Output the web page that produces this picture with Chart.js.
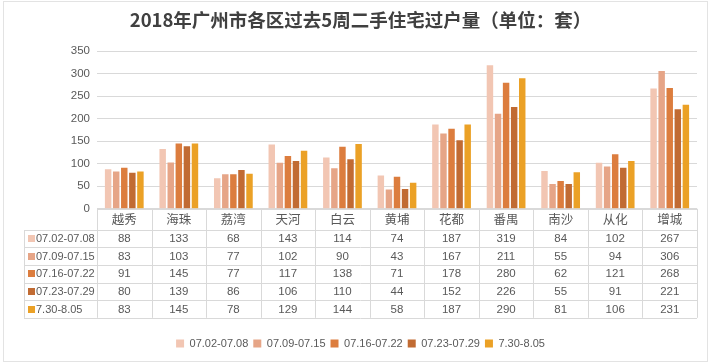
<!DOCTYPE html>
<html>
<head>
<meta charset="utf-8">
<script src="https://cdn.jsdelivr.net/npm/chart.js@4.4.1/dist/chart.umd.min.js"></script>
<style>
  html, body { margin: 0; padding: 0; background: #fff; }
  canvas { display: block; }
</style>
</head>
<body>
<canvas id="myChart" width="711" height="363"></canvas>
<script>
/******** data */
const districts = ["越秀", "海珠", "荔湾", "天河", "白云", "黄埔", "花都", "番禺", "南沙", "从化", "增城"];
const weeks = ["07.02-07.08", "07.09-07.15", "07.16-07.22", "07.23-07.29", "7.30-8.05"];
const week1 = [88, 133, 68, 143, 114, 74, 187, 319, 84, 102, 267];
const week2 = [83, 103, 77, 102, 90, 43, 167, 211, 55, 94, 306];
const week3 = [91, 145, 77, 117, 138, 71, 178, 280, 62, 121, 268];
const week4 = [80, 139, 86, 106, 110, 44, 152, 226, 55, 91, 221];
const week5 = [83, 145, 78, 129, 144, 58, 187, 290, 81, 106, 231];
const yTicks = [0, 50, 100, 150, 200, 250, 300, 350];

const colors = ["#f2c6b3", "#e6a587", "#dc7d3e", "#c16b33", "#eba126"];
const textGray = "#595959";
const lineGray = "#d9d9d9";
const numFont = "'Liberation Sans', Arial, sans-serif";
const cjkFont = "'Noto Sans CJK SC', sans-serif";

/******** table under the chart, drawn from the x scale */
const tableHeadH = 21;
const tablePlugin = {
  id: "dataTable",
  afterDraw(chart) {
    const ctx = chart.ctx;
    const xs = chart.scales.x;
    const area = chart.chartArea;
    const top = xs.top;
    const bottom = xs.bottom;
    const rowH = (bottom - top - tableHeadH) / weeks.length;
    const catW = (area.right - area.left) / districts.length;
    const labelLeft = 24;

    ctx.save();
    ctx.strokeStyle = lineGray;
    ctx.lineWidth = 1;
    ctx.beginPath();
    // header top line
    ctx.moveTo(area.left, Math.round(top) + 0.5);
    ctx.lineTo(area.right, Math.round(top) + 0.5);
    // row lines
    for (let r = 0; r <= weeks.length; r++) {
      const y = Math.round(top + tableHeadH + r * rowH) + 0.5;
      ctx.moveTo(labelLeft, y);
      ctx.lineTo(area.right, y);
    }
    // column lines
    for (let c = 0; c <= districts.length; c++) {
      const x = Math.round(area.left + c * catW) + 0.5;
      ctx.moveTo(x, top);
      ctx.lineTo(x, bottom);
    }
    ctx.moveTo(labelLeft + 0.5, Math.round(top + tableHeadH));
    ctx.lineTo(labelLeft + 0.5, bottom);
    ctx.stroke();

    ctx.textBaseline = "middle";
    chart.data.datasets.forEach((ds, r) => {
      const yc = top + tableHeadH + (r + 0.5) * rowH;
      ctx.fillStyle = ds.backgroundColor;
      ctx.fillRect(labelLeft + 4, Math.round(yc - 3.5), 7, 7);
      ctx.fillStyle = textGray;
      ctx.font = "11px " + numFont;
      ctx.textAlign = "left";
      ctx.fillText(ds.label, labelLeft + 12, yc + 0.5);
      ctx.font = "11.5px " + numFont;
      ctx.textAlign = "center";
      ds.data.forEach((v, i) => {
        ctx.fillText(String(v), xs.getPixelForValue(i), yc + 0.5);
      });
    });

    // outer frame of the picture
    ctx.strokeStyle = "#e3e3e3";
    ctx.strokeRect(3.5, 1.5, chart.width - 7, chart.height - 3);
    ctx.restore();
  }
};

const ctx = document.getElementById("myChart");
new Chart(ctx, {
  type: "bar",
  data: {
    labels: districts,
    datasets: [week1, week2, week3, week4, week5].map((d, i) => ({
      label: weeks[i],
      data: d,
      backgroundColor: colors[i],
      borderWidth: 0,
    })),
  },
  options: {
    responsive: false,
    animation: false,
    devicePixelRatio: 1,
    layout: { padding: { left: 24, right: 14, top: 0, bottom: 4 } },
    datasets: { bar: { categoryPercentage: 0.74, barPercentage: 0.8 } },
    plugins: {
      title: {
        display: true,
        text: "2018年广州市各区过去5周二手住宅过户量（单位：套）",
        color: "#404040",
        font: { family: cjkFont, size: 18.5, weight: "bold" },
        padding: { top: 9, bottom: 20 },
      },
      legend: {
        position: "bottom",
        // empty legend title only adds the gap between table and legend
        title: { display: true, text: "", font: { size: 1 }, padding: { top: 0, bottom: 14 } },
        labels: {
          boxWidth: 8,
          boxHeight: 8,
          color: textGray,
          font: { family: numFont, size: 11 },
          padding: 5,
        },
      },
      tooltip: { enabled: false },
    },
    scales: {
      x: {
        grid: { display: false, drawTicks: false },
        border: { display: false },
        ticks: {
          color: textGray,
          font: { family: cjkFont, size: 12.5 },
          padding: 3,
          maxRotation: 0,
          autoSkip: false,
        },
        afterFit(scale) { scale.height = 109; },
      },
      y: {
        min: 0,
        max: 350,
        afterBuildTicks(scale) { scale.ticks = yTicks.map((v) => ({ value: v })); },
        grid: { color: lineGray, drawTicks: false },
        border: { display: false },
        ticks: {
          color: textGray,
          font: { family: numFont, size: 11.5 },
          padding: 7,
        },
        afterFit(scale) { scale.width = 73; },
      },
    },
  },
  plugins: [tablePlugin],
});
</script>
</body>
</html>
